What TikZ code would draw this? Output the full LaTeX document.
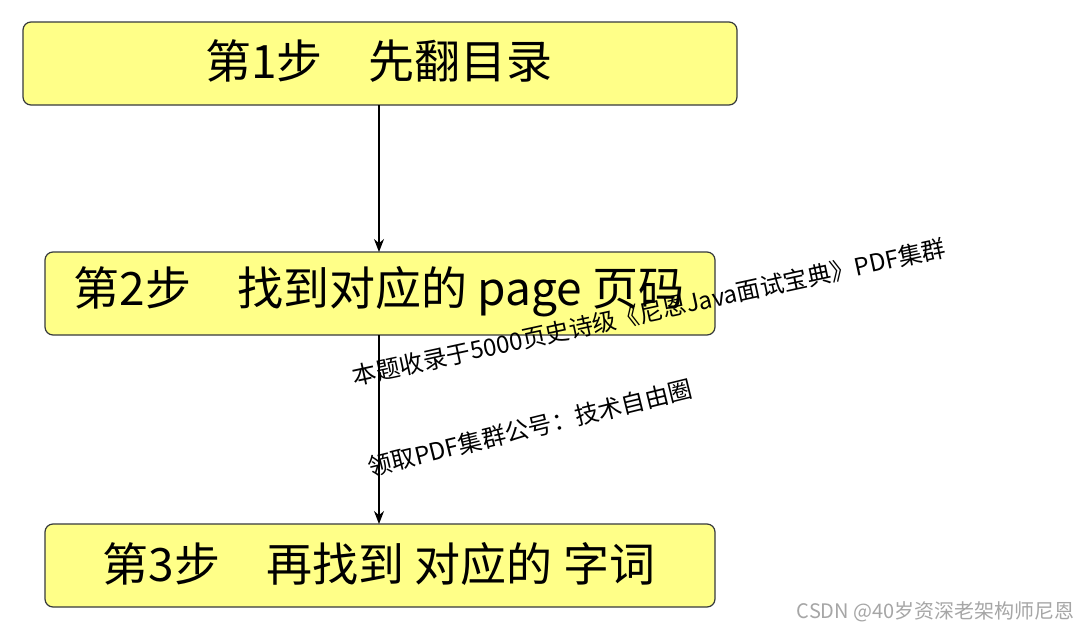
\documentclass[tikz,border=0pt]{standalone}
\usepackage{fontspec}
\setmainfont{Noto Sans CJK SC}
\usetikzlibrary{arrows.meta}
\definecolor{boxfill}{HTML}{FFFF88}
\definecolor{boxline}{HTML}{36393D}
\tikzset{
 stepbox/.style={draw=boxline,line width=1.2pt,fill=boxfill,rounded corners=8pt},
 steptext/.style={font=\fontsize{46}{52}\selectfont},
 conn/.style={-{Stealth[length=13pt,width=10pt]},line width=1.2pt},
 wm/.style={font=\fontsize{24}{28}\selectfont,inner sep=0pt}
}
\begin{document}
\begin{tikzpicture}[x=1pt,y=-1pt]
\useasboundingbox (0,0) rectangle (1080,630);
\fill[white] (0,0) rectangle (1080,630);
\draw[stepbox] (23,22) rectangle (737,105);
\node[steptext] (s1) at (379,61) {第1步\quad 先翻目录};
\draw[stepbox] (45,252) rectangle (715,335);
\node[steptext] (s2) at (379,292) {第2步\quad 找到对应的 page 页码};
\draw[stepbox] (45,524) rectangle (715,607);
\node[steptext] (s3) at (379,564) {第3步\quad 再找到 对应的 字词};
\coordinate (a1) at (379,105); \coordinate (b1) at (379,252);
\coordinate (a2) at (379,335); \coordinate (b2) at (379,524);
\draw[conn] (a1) -- (b1);
\draw[conn] (a2) -- (b2);
\node[wm,rotate=12.3] (w1) at (649,312) {本题收录于5000页史诗级《尼恩Java面试宝典》PDF集群};
\node[wm,rotate=13.8] (w2) at (530,428) {领取PDF集群公号：技术自由圈};
\node[font=\fontsize{20}{24}\selectfont,text=gray!70,anchor=east,inner sep=0pt] (c) at (1075,612) {CSDN @40岁资深老架构师尼恩};
\end{tikzpicture}
\end{document}
